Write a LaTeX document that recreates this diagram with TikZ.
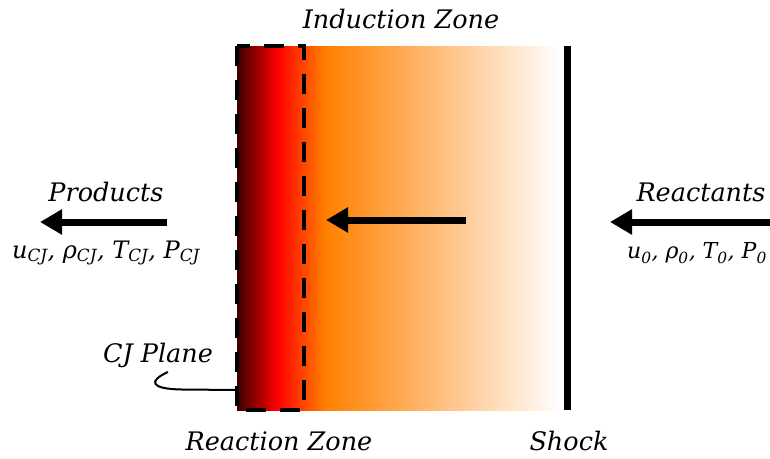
\documentclass[tikz,border=0pt]{standalone}
\usepackage{fontspec}
\setmainfont{DejaVu Serif}
\usetikzlibrary{arrows.meta}
\definecolor{flameA}{RGB}{60,0,0}
\definecolor{flameB}{RGB}{255,0,0}
\definecolor{flameC}{RGB}{255,128,0}
\definecolor{flameD}{RGB}{255,255,255}
\pgfdeclarehorizontalshading{flame}{100bp}{%
  color(0bp)=(flameA);
  color(25bp)=(flameA);
  color(31.2bp)=(flameB);
  color(38.6bp)=(flameC);
  color(75bp)=(flameD);
  color(100bp)=(flameD)}
\newcommand\sbx[1]{\textsubscript{#1}}
\tikzset{
  lbl/.style={font=\fontsize{25.5}{30}\selectfont\itshape, inner sep=0pt},
  mlbl/.style={font=\fontsize{24}{28}\selectfont\itshape, inner sep=0pt},
  flow/.style={line width=7pt, -{Triangle[length=22pt,width=24pt]}},
}
\begin{document}
\begin{tikzpicture}[x=1pt,y=-1pt]
\useasboundingbox (0,0) rectangle (770,458);
% gradient zone
\shade[shading=flame] (237,46) rectangle (560,410);
\node[inner sep=0pt, minimum width=67pt, minimum height=364pt] (rz) at (270.5,228) {};
\draw[line width=4pt, dash pattern=on 20pt off 14pt] (rz.north west) rectangle (rz.south east);
% shock
\node[fill=black, inner sep=0pt, minimum width=7pt, minimum height=364pt] (shock) at (567,228) {};
% labels
\node[lbl] (ind) at (401,19) {Induction Zone};
\node[lbl] (prod) at (106,192) {Products};
\node[mlbl] (pvars) at (106,253) {u\sbx{CJ}, ρ\sbx{CJ}, T\sbx{CJ}, P\sbx{CJ}};
\node[lbl] (reac) at (701,192) {Reactants};
\node[mlbl, font=\fontsize{22}{26}\selectfont\itshape, anchor=east] (rvars) at (767,253) {u\sbx{0}, ρ\sbx{0}, T\sbx{0}, P\sbx{0}};
\node[lbl] (cj) at (158,355) {CJ Plane};
\node[lbl] (rzl) at (279,441) {Reaction Zone};
\node[lbl] (shl) at (569,441) {Shock};
% arrows
\coordinate (pa1) at (167,222);
\coordinate (pa2) at (40,222);
\coordinate (ma1) at (466,220);
\coordinate (ma2) at (326,220);
\coordinate (ra1) at (770,222);
\coordinate (ra2) at (610,222);
\draw[flow] (pa1) -- (pa2);
\draw[flow] (ma1) -- (ma2);
\draw[flow] (ra1) -- (ra2);
% CJ plane pointer
\coordinate (cjend) at (168,372);
\draw[line width=2pt] (rz.west |- 0,390) -- (182,389.5) .. controls (150,389) and (148,381) .. (cjend);
\end{tikzpicture}
\end{document}
